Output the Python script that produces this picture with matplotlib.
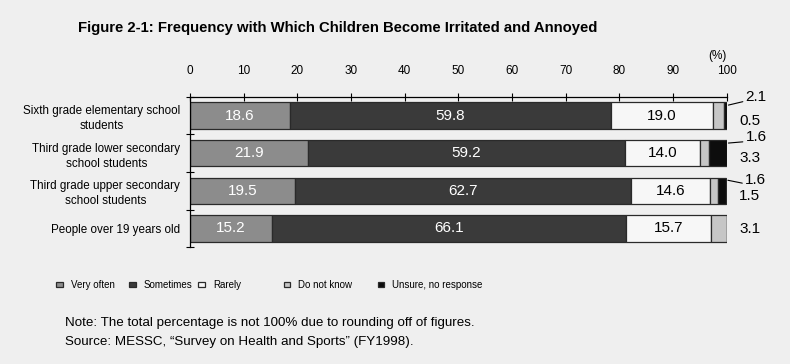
import numpy as np
import matplotlib.pyplot as plt

plt.rcParams['font.family'] = ['Liberation Sans', 'DejaVu Sans']

categories = ["Sixth grade elementary school\nstudents",
              "Third grade lower secondary\nschool students",
              "Third grade upper secondary\nschool students",
              "People over 19 years old"]
series_names = ["Very often", "Sometimes", "Rarely", "Do not know", "Unsure, no response"]
very_often = [18.6, 21.9, 19.5, 15.2]
sometimes = [59.8, 59.2, 62.7, 66.1]
rarely = [19.0, 14.0, 14.6, 15.7]
dont_know = [2.1, 1.6, 1.6, 3.1]
unsure = [0.5, 3.3, 1.5, 0.0]
xticks = [0, 10, 20, 30, 40, 50, 60, 70, 80, 90, 100]

colors = ['#8c8c8c', '#3a3a3a', '#f7f7f7', '#c6c6c6', '#0d0d0d']
bg = '#efefef'

fig = plt.figure(figsize=(7.9, 3.64), dpi=100, facecolor=bg)
ax = fig.add_axes([0.2405, 0.321, 0.6795, 0.413])
ax.set_facecolor(bg)

y = np.arange(len(categories))
left = np.zeros(len(categories))
bars = []
for vals, col, name in zip([very_often, sometimes, rarely, dont_know, unsure], colors, series_names):
    vals = np.array(vals)
    b = ax.barh(y, vals, left=left, height=0.7, color=col, edgecolor='#2a2a2a',
                linewidth=0.9, label=name)
    bars.append(b)
    left = left + vals

# labels inside the big segments
for i in range(len(categories)):
    ax.text(very_often[i] / 2, y[i], f"{very_often[i]:.1f}", color='white',
            ha='center', va='center', fontsize=11)
    ax.text(very_often[i] + sometimes[i] / 2, y[i], f"{sometimes[i]:.1f}",
            color='white', ha='center', va='center', fontsize=11)
    x0 = very_often[i] + sometimes[i]
    ax.text(x0 + rarely[i] / 2, y[i], f"{rarely[i]:.1f}", color='black',
            ha='center', va='center', fontsize=11)

# small segment labels on the right of the bars
lead_dy = [0.5, 0.42, 0.3]
for i in range(len(categories)):
    end = very_often[i] + sometimes[i] + rarely[i] + dont_know[i] + unsure[i]
    if unsure[i] > 0:
        ty = y[i] - lead_dy[i]
        ax.annotate(f"{dont_know[i]:.1f}", xy=(end + 0.3, y[i] - 0.28 if i != 1 else ty + 0.15),
                    xytext=(end + 3.5, ty), textcoords='data', fontsize=11,
                    ha='left', va='center', annotation_clip=False,
                    arrowprops=dict(arrowstyle='-', color='black', lw=0.8,
                                    shrinkA=0, shrinkB=0, relpos=(0, 0.2)))
        ax.text(end + 2.3, y[i] + 0.14, f"{unsure[i]:.1f}", fontsize=11,
                ha='left', va='center')
    else:
        ax.text(end + 2.3, y[i] + 0.02, f"{dont_know[i]:.1f}", fontsize=11,
                ha='left', va='center')

ax.set_xlim(0, 100)
ax.set_ylim(3.5, -0.5)
ax.xaxis.tick_top()
ax.set_xticks(xticks)
ax.set_xticklabels([str(t) for t in xticks], fontsize=8.5)
ax.tick_params(axis='x', direction='inout', length=6, width=0.8, pad=11)
ax.set_yticks(np.arange(-0.5, len(categories), 1.0))
ax.set_yticklabels([])
ax.set_yticks(y, minor=True)
ax.set_yticklabels(categories, minor=True, fontsize=8.4)
ax.tick_params(axis='y', which='major', direction='inout', length=6, width=0.8)
ax.tick_params(axis='y', which='minor', length=0, pad=7)
for lab in ax.get_yticklabels(minor=True):
    lab.set_multialignment('center')
    lab.set_linespacing(1.35)
for s in ['right', 'bottom']:
    ax.spines[s].set_visible(False)
ax.spines['top'].set_linewidth(0.9)
ax.spines['left'].set_linewidth(0.9)
ax.text(1.0, 1.27, "(%)", transform=ax.transAxes, fontsize=8.5, ha='right', va='center')

fig.text(0.099, 0.922, "Figure 2-1: Frequency with Which Children Become Irritated and Annoyed",
         fontsize=10.7, fontweight='bold', ha='left', va='center')

# legend entries spaced like the original
leg_x = [0.071, 0.163, 0.251, 0.359, 0.478]
for b, name, lx in zip(bars, series_names, leg_x):
    fig.legend([b], [name], loc='center left', bbox_to_anchor=(lx, 0.217),
               frameon=False, fontsize=7, handlelength=0.7, handleheight=0.45,
               handletextpad=0.8, borderpad=0, borderaxespad=0)

fig.text(0.082, 0.113, "Note: The total percentage is not 100% due to rounding off of figures.",
         fontsize=9.6, ha='left', va='center')
fig.text(0.082, 0.06, "Source: MESSC, \u201cSurvey on Health and Sports\u201d (FY1998).",
         fontsize=9.6, ha='left', va='center')

fig.savefig('out.png', dpi=100, facecolor=bg)
